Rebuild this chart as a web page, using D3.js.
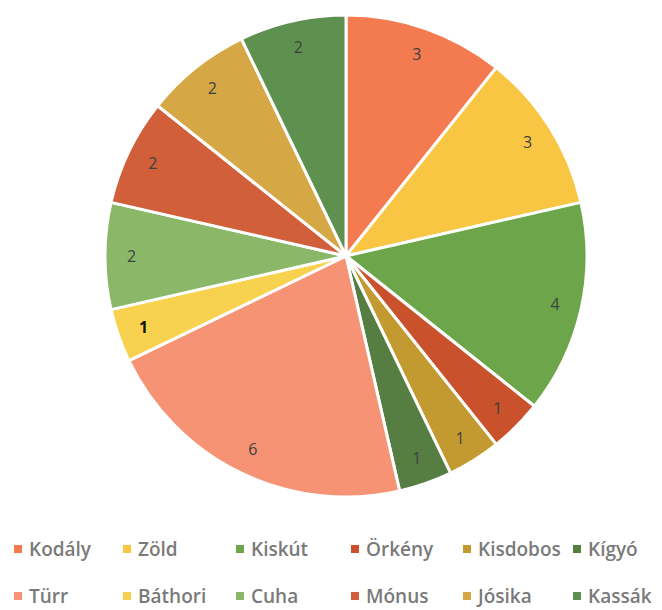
<!DOCTYPE html>
<html><head><meta charset="utf-8">
<script src="https://cdn.jsdelivr.net/npm/d3@7/dist/d3.min.js"></script>
<style>body{margin:0;background:#fff}svg{display:block}</style>
</head><body>
<script>
const categories = ["Kodály","Zöld","Kiskút","Örkény","Kisdobos","Kígyó","Türr","Báthori","Cuha","Mónus","Jósika","Kassák"];
const values = [3,3,4,1,1,1,6,1,2,2,2,2];
const colors = ["#F47B50","#F8C642","#6DA64A","#C9512B","#C29A30","#567E43","#F59374","#F8D24E","#8BB868","#D15F3A","#D6A845","#5E9150"];
const legendOrder = ["Kodály","Zöld","Kiskút","Örkény","Kisdobos","Kígyó","Türr","Báthori","Cuha","Mónus","Jósika","Kassák"];

const W=662,H=610,cx=346,cy=256,R=241;
const svg=d3.select("body").append("svg").attr("width",W).attr("height",H);
const data=categories.map((c,i)=>({name:c,value:values[i],color:colors[i]}));
const pie=d3.pie().value(d=>d.value).sort(null);
const arc=d3.arc().innerRadius(0).outerRadius(R);
const labelArc=d3.arc().innerRadius(R*0.89).outerRadius(R*0.89);
const g=svg.append("g").attr("transform",`translate(${cx},${cy})`);
const arcs=pie(data);
g.selectAll("path").data(arcs).enter().append("path")
  .attr("d",arc).attr("fill",d=>d.data.color)
  .attr("stroke","#fff").attr("stroke-width",3).attr("stroke-linejoin","round");
g.selectAll("text").data(arcs).enter().append("text")
  .attr("transform",d=>{const c=labelArc.centroid(d);return `translate(${c[0]},${c[1]})`;})
  .attr("text-anchor","middle").attr("dominant-baseline","central")
  .attr("font-family","Open Sans, Liberation Sans, sans-serif").attr("font-size",16)
  .attr("fill",d=>d.data.name==="Báthori"?"#111":"#404040")
  .attr("font-weight",d=>d.data.name==="Báthori"?"bold":"normal")
  .text(d=>d.data.value);

const colX=[18,127,240,355,467,577];
const rowY=[549,596];
const lg=svg.append("g");
legendOrder.forEach((name,i)=>{
  const col=i%6,row=Math.floor(i/6);
  const color=colors[categories.indexOf(name)];
  const x=colX[col],y=rowY[row];
  lg.append("rect").attr("x",x-4).attr("y",y-4).attr("width",8).attr("height",8).attr("fill",color);
  lg.append("text").attr("x",x+11).attr("y",y).attr("dominant-baseline","central")
    .attr("font-family","Open Sans, Liberation Sans, sans-serif").attr("font-size",19)
    .attr("font-weight",600)
    .attr("fill","#7a7a7a").text(name);
});
</script>
</body></html>
